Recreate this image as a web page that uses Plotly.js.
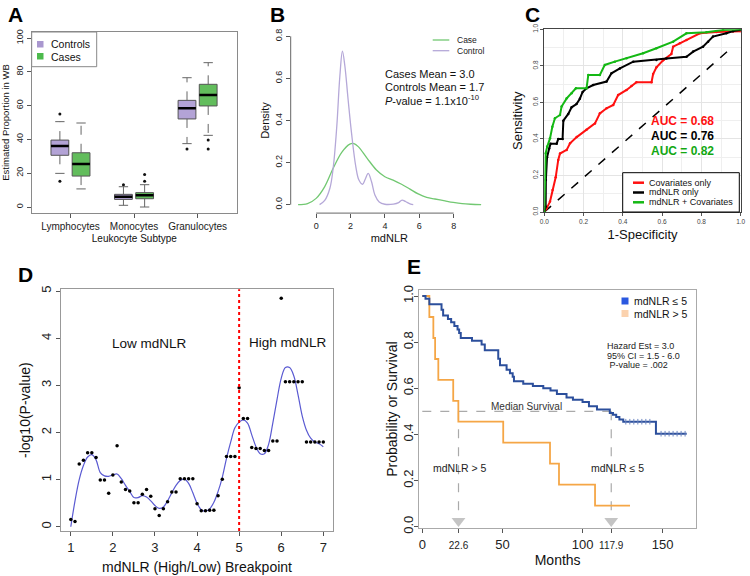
<!DOCTYPE html>
<html><head><meta charset="utf-8">
<script src="https://cdn.plot.ly/plotly-3.0.1.min.js"></script>
<style>html,body{margin:0;padding:0;background:#fff}#chart{width:750px;height:576px}</style>
</head><body><div id="chart"></div>
<script>
// ---------- Panel A data (box statistics) ----------
const subtypes = ['Lymphocytes','Monocytes','Granulocytes'];
const subtypePos = [1.5, 4.5, 7.5];
const ctrlPos = [1, 4, 7];
const casePos = [2, 5, 8];
const ctrlLo  = [19.9, 1.0, 37.5];
const ctrlQ1  = [30.6, 4.5, 52.1];
const ctrlMed = [36.1, 6.1, 58.4];
const ctrlQ3  = [39.6, 7.5, 63.1];
const ctrlHi  = [50.5, 12.0, 76.5];
const ctrlOutX = [1, 1, 4, 7];
const ctrlOutY = [55.0, 15.2, 13.2, 34.3];
const caseLo  = [10.7, 0.0, 42.4];
const caseQ1  = [18.3, 4.9, 59.8];
const caseMed = [25.4, 6.9, 66.3];
const caseQ3  = [32.1, 8.5, 72.6];
const caseHi  = [49.7, 13.2, 85.4];
const caseOutX = [5, 5, 8, 8];
const caseOutY = [15.2, 19.3, 39.6, 34.3];
const legendA = ['Controls', 'Cases'];

// ---------- Panel B data (densities) ----------
const ctrlDensX = [0.2,0.5,0.8,1.0,1.2,1.38,1.53,1.67,1.86,2.06,2.31,2.49,2.7,2.85,3.03,3.22,3.42,3.67,4.0,4.5,4.8,5.0,5.2,5.5,5.65];
const ctrlDensY = [0.0,0.02,0.078,0.18,0.37,0.61,0.73,0.66,0.50,0.34,0.18,0.117,0.097,0.12,0.149,0.11,0.046,0.013,0.002,0.003,0.01,0.022,0.015,0.003,0.0];
const caseDensX = [-1.05,-0.5,0.0,0.5,0.99,1.5,1.96,2.2,2.45,2.97,3.51,4.0,4.48,4.97,5.46,5.94,6.43,6.91,7.5,7.98,8.5,9.0,9.6];
const caseDensY = [0.0,0.005,0.03,0.086,0.173,0.25,0.288,0.29,0.276,0.22,0.165,0.133,0.117,0.097,0.074,0.051,0.035,0.027,0.018,0.011,0.005,0.002,0.0];
const legendB = ['Case', 'Control'];

// ---------- Panel C data (ROC curves) ----------
const covFpr = [0,0.012,0.029,0.042,0.058,0.071,0.080,0.114,0.131,0.165,0.215,0.258,0.283,0.317,0.351,0.376,0.419,0.444,0.469,0.546,0.554,0.571,0.605,0.647,0.656,0.69,0.724,0.792,0.876,0.961,1];
const covTpr = [0,0.02,0.057,0.12,0.19,0.285,0.32,0.34,0.376,0.41,0.45,0.485,0.54,0.568,0.586,0.64,0.668,0.69,0.71,0.71,0.755,0.792,0.83,0.865,0.905,0.923,0.942,0.978,0.985,0.99,0.99];
const nlrFpr = [0,0.007,0.008,0.014,0.025,0.032,0.063,0.071,0.093,0.097,0.122,0.139,0.164,0.181,0.195,0.215,0.249,0.317,0.342,0.385,0.453,0.571,0.622,0.724,0.758,0.808,0.834,0.859,0.927,0.961,1];
const nlrTpr = [0,0.03,0.175,0.30,0.347,0.374,0.374,0.40,0.40,0.50,0.537,0.573,0.591,0.62,0.657,0.677,0.695,0.714,0.759,0.786,0.823,0.832,0.84,0.85,0.878,0.905,0.932,0.96,0.978,0.99,0.996];
const bothFpr = [0,0.007,0.015,0.029,0.041,0.054,0.080,0.088,0.114,0.139,0.161,0.215,0.224,0.283,0.308,0.359,0.419,0.503,0.571,0.656,0.724,0.825,0.910,1];
const bothTpr = [0,0.321,0.358,0.403,0.467,0.513,0.531,0.577,0.622,0.650,0.677,0.677,0.750,0.750,0.805,0.823,0.841,0.869,0.896,0.932,0.978,0.984,0.996,1];
const refLineX = [0, 0.96];
const refLineY = [0, 0.905];
const aucLabels = ['AUC = 0.68','AUC = 0.76','AUC = 0.82'];
const legendC = ['Covariates only', 'mdNLR only', 'mdNLR + Covariates'];

// ---------- Panel D data (breakpoint scan) ----------
const breakX = [1.0,1.1,1.2,1.3,1.4,1.5,1.6,1.7,1.8,1.9,2.0,2.1,2.2,2.3,2.4,2.5,2.6,2.7,2.8,2.9,3.0,3.1,3.2,3.3,3.4,3.5,3.6,3.7,3.8,3.9,4.0,4.1,4.2,4.3,4.4,4.5,4.6,4.7,4.8,4.9,5.0,5.1,5.2,5.3,5.4,5.5,5.6,5.7,5.8,5.9,6.0,6.1,6.2,6.3,6.4,6.5,6.6,6.7,6.8,6.9,7.0];
const negLogP = [0.155,0.11,1.33,1.41,1.57,1.57,1.47,0.99,0.99,0.71,1.10,1.72,0.95,0.79,0.76,0.51,0.51,0.69,0.79,0.65,0.38,0.24,0.38,0.53,0.74,0.74,1.02,1.02,1.02,1.02,0.49,0.34,0.34,0.35,0.35,0.66,1.01,1.49,1.49,1.49,2.95,2.30,2.30,1.68,1.66,1.66,1.62,1.62,1.82,1.82,4.85,3.08,3.08,3.08,3.08,3.08,1.80,1.80,1.80,1.80,1.80];
const smoothLogP = [0.0,0.55,1.0,1.3,1.48,1.53,1.42,1.15,1.08,1.07,1.1,1.12,1.02,0.88,0.75,0.62,0.62,0.66,0.63,0.55,0.45,0.39,0.42,0.55,0.72,0.88,0.98,1.01,0.92,0.72,0.5,0.36,0.33,0.38,0.52,0.75,1.05,1.45,1.8,2.1,2.22,2.27,2.2,1.95,1.7,1.55,1.55,1.75,2.2,2.7,3.15,3.38,3.38,3.2,2.8,2.35,2.05,1.88,1.8,1.76,1.7];
const chosenBreak = 5;

// ---------- Panel E data (Kaplan-Meier) ----------
const lowT = [0,2,4.4,12,13,16,18,20,22,23,24,31,37,39,47.4,48.5,52.6,54.7,56.4,57.2,63,69,75.5,80,84,90,94,100,104,109,117,119,121,123,125.4,145.8,165];
const lowS = [1.0,0.988,0.964,0.94,0.915,0.9,0.886,0.87,0.855,0.84,0.818,0.806,0.79,0.765,0.728,0.70,0.68,0.665,0.65,0.63,0.62,0.61,0.60,0.59,0.575,0.56,0.55,0.54,0.522,0.508,0.493,0.485,0.475,0.465,0.455,0.403,0.403];
const lowCensT = [127,129.5,132,134.5,137,139.5,142,149,151.5,154,156.5,159,161.5,164];
const lowCensS = [0.455,0.455,0.455,0.455,0.455,0.455,0.455,0.403,0.403,0.403,0.403,0.403,0.403,0.403];
const highT = [0,4.4,6.9,8,10,19.3,22.5,50.5,79.7,85.3,107.8,129.6];
const highS = [1,0.909,0.818,0.727,0.636,0.545,0.455,0.364,0.273,0.182,0.091,0.091];
const medianTimes = [22.6, 117.9];
const medianLevel = 0.5;
const eTicks = [0, 22.6, 50, 100, 117.9, 150];
const legendE = ['mdNLR ≤ 5', 'mdNLR > 5'];

// ---------- helpers ----------
const W = 750, H = 576;
const FONT = 'Liberation Sans, Arial, sans-serif';
const dX = (l, r) => [l / W, r / W];
const dY = (t, b) => [1 - b / H, 1 - t / H];
const PX = (x) => x / W;
const PY = (y) => 1 - y / H;

function boxTraces(pos, lo, q1, med, q3, hi, fill) {
  const half = 0.42, cap = 0.22;
  const bx = [], by = [], wx = [], wy = [], cx = [], cy = [], mx = [], my = [];
  pos.forEach((p, i) => {
    bx.push(p - half, p + half, p + half, p - half, p - half, null);
    by.push(q1[i], q1[i], q3[i], q3[i], q1[i], null);
    wx.push(p, p, null, p, p, null);
    wy.push(q3[i], hi[i], null, q1[i], lo[i], null);
    cx.push(p - cap, p + cap, null, p - cap, p + cap, null);
    cy.push(hi[i], hi[i], null, lo[i], lo[i], null);
    mx.push(p - half, p + half, null);
    my.push(med[i], med[i], null);
  });
  const ax = {xaxis: 'x', yaxis: 'y', hoverinfo: 'skip', showlegend: false};
  return [
    Object.assign({x: wx, y: wy, mode: 'lines', line: {color: '#666', width: 1, dash: 'dash'}}, ax),
    Object.assign({x: cx, y: cy, mode: 'lines', line: {color: '#666', width: 1}}, ax),
    Object.assign({x: bx, y: by, mode: 'lines', fill: 'toself', fillcolor: fill, line: {color: '#555', width: 1}}, ax),
    Object.assign({x: mx, y: my, mode: 'lines', line: {color: '#000', width: 2.5}}, ax)
  ];
}

const COL = {ctrlBox: '#b3a3d6', caseBox: '#62bd5c', ctrlKey: '#a997cf', caseKey: '#4dba4d',
  bCase: '#72c872', bCtrl: '#b5a8d8', red: '#ff1010', black: '#000', green: '#14b814',
  blue: '#2c4f9c', orange: '#f5a646', blueKey: '#2a58e0', orangeKey: '#fbd2ae'};

const traces = [];
// Panel A
traces.push(...boxTraces(ctrlPos, ctrlLo, ctrlQ1, ctrlMed, ctrlQ3, ctrlHi, COL.ctrlBox));
traces.push(...boxTraces(casePos, caseLo, caseQ1, caseMed, caseQ3, caseHi, COL.caseBox));
traces.push({x: ctrlOutX.concat(caseOutX), y: ctrlOutY.concat(caseOutY), mode: 'markers', xaxis: 'x', yaxis: 'y',
  marker: {color: '#111', size: 3}, showlegend: false, hoverinfo: 'skip'});

// Panel B
traces.push({x: caseDensX, y: caseDensY, mode: 'lines', name: legendB[0], xaxis: 'x2', yaxis: 'y2', showlegend: false,
  line: {color: COL.bCase, width: 1.3, shape: 'spline'}});
traces.push({x: ctrlDensX, y: ctrlDensY, mode: 'lines', name: legendB[1], xaxis: 'x2', yaxis: 'y2', showlegend: false,
  line: {color: COL.bCtrl, width: 1.3, shape: 'spline'}});

// Panel C
traces.push({x: refLineX, y: refLineY, mode: 'lines', xaxis: 'x3', yaxis: 'y3', showlegend: false,
  line: {color: '#000', width: 1.5, dash: 'dash'}});
traces.push({x: covFpr, y: covTpr, mode: 'lines+markers', name: legendC[0], xaxis: 'x3', yaxis: 'y3', showlegend: false,
  line: {color: COL.red, width: 2}, marker: {size: 2.5, color: COL.red}});
traces.push({x: nlrFpr, y: nlrTpr, mode: 'lines+markers', name: legendC[1], xaxis: 'x3', yaxis: 'y3', showlegend: false,
  line: {color: COL.black, width: 2}, marker: {size: 2.5, color: COL.black}});
traces.push({x: bothFpr, y: bothTpr, mode: 'lines+markers', name: legendC[2], xaxis: 'x3', yaxis: 'y3', showlegend: false,
  line: {color: COL.green, width: 2}, marker: {size: 2.5, color: COL.green}});

// Panel D
traces.push({x: breakX, y: smoothLogP, mode: 'lines', xaxis: 'x4', yaxis: 'y4', showlegend: false,
  line: {color: '#5a5ad2', width: 1.2, shape: 'spline'}});
traces.push({x: breakX, y: negLogP, mode: 'markers', xaxis: 'x4', yaxis: 'y4', showlegend: false,
  marker: {color: '#000', size: 3.5}});

// Panel E
traces.push({x: [0, medianTimes[1]], y: [medianLevel, medianLevel], mode: 'lines', xaxis: 'x5', yaxis: 'y5', showlegend: false,
  line: {color: '#aaa', width: 1.2, dash: 'dash'}});
traces.push({x: [medianTimes[0], medianTimes[0], null, medianTimes[1], medianTimes[1]], y: [medianLevel, 0.04, null, medianLevel, 0.04],
  mode: 'lines', xaxis: 'x5', yaxis: 'y5', showlegend: false, line: {color: '#aaa', width: 1.2, dash: 'dash'}});
traces.push({x: medianTimes, y: [0.025, 0.025], mode: 'markers', xaxis: 'x5', yaxis: 'y5', showlegend: false,
  marker: {symbol: 'triangle-down', size: 12, color: '#c4c4c4'}});
traces.push({x: highT, y: highS, mode: 'lines', name: legendE[1], xaxis: 'x5', yaxis: 'y5', showlegend: false,
  line: {color: COL.orange, width: 1.8, shape: 'hv'}});
traces.push({x: lowT, y: lowS, mode: 'lines', name: legendE[0], xaxis: 'x5', yaxis: 'y5', showlegend: false,
  line: {color: COL.blue, width: 2, shape: 'hv'}});
traces.push({x: lowCensT, y: lowCensS, mode: 'markers', xaxis: 'x5', yaxis: 'y5', showlegend: false,
  marker: {symbol: 'line-ns', size: 4, line: {color: '#6d86c0', width: 1}}});

function axis(extra) {
  return Object.assign({showgrid: false, zeroline: false, ticks: 'outside', ticklen: 4, tickcolor: '#555',
    showline: true, mirror: true, linecolor: '#8a8a8a', linewidth: 1, fixedrange: true, automargin: false,
    tickfont: {family: FONT, size: 9, color: '#222'}}, extra);
}
const tfont = (s) => ({family: FONT, size: s, color: '#111'});

// ---------- manual legends (shapes + texts in paper pixels) ----------
const shapes = [
  {type: 'line', xref: 'x2', yref: 'y2 domain', x0: 0, x1: 8, y0: 0, y1: 0, line: {color: '#666', width: 1}},
  {type: 'line', xref: 'x2 domain', yref: 'y2', x0: 0, x1: 0, y0: 0, y1: 0.8, line: {color: '#666', width: 1}},
  {type: 'line', xref: 'x4', yref: 'y4 domain', x0: chosenBreak, x1: chosenBreak, y0: 0, y1: 1,
    line: {color: '#ff0000', width: 2, dash: 'dot'}}
];
const annotations = [];
function pText(text, x, y, size, color, xanchor, extra) {
  annotations.push(Object.assign({text: text, x: PX(x), y: PY(y), xref: 'paper', yref: 'paper', showarrow: false,
    xanchor: xanchor || 'center', yanchor: 'middle', font: {family: FONT, size: size, color: color || '#111'}}, extra || {}));
}
function pRect(x0, y0, x1, y1, fill, border, bw) {
  shapes.push({type: 'rect', xref: 'paper', yref: 'paper', x0: PX(x0), x1: PX(x1), y0: PY(y1), y1: PY(y0),
    fillcolor: fill, line: {color: border || fill, width: bw === undefined ? 0 : bw}, layer: 'above'});
}
function pLine(x0, x1, y, color, w) {
  shapes.push({type: 'line', xref: 'paper', yref: 'paper', x0: PX(x0), x1: PX(x1), y0: PY(y), y1: PY(y),
    line: {color: color, width: w}, layer: 'above'});
}
// A legend
pRect(31.7, 32, 96.7, 66.7, '#fff', '#888', 1);
pRect(37, 41, 43.5, 47.5, COL.ctrlKey);
pRect(37, 53, 43.5, 59.5, COL.caseKey);
pText(legendA[0], 49, 44.5, 10.5, '#111', 'left');
pText(legendA[1], 49, 56.5, 10.5, '#111', 'left');
// B legend
pLine(432.7, 449.3, 40, COL.bCase, 1.3);
pLine(432.7, 449.3, 50.7, COL.bCtrl, 1.3);
pText(legendB[0], 455, 40, 8.5, '#222', 'left');
pText(legendB[1], 455, 50.7, 8.5, '#222', 'left');
// C legend
pRect(622.7, 172.7, 739.3, 212, '#fff', '#000', 1);
pLine(633, 644, 182.7, COL.red, 2.5);
pLine(633, 644, 192.5, COL.black, 2.5);
pLine(633, 644, 202.3, COL.green, 2.5);
pText(legendC[0], 646.5, 182.7, 9, '#111', 'left');
pText(legendC[1], 646.5, 192.5, 9, '#111', 'left');
pText(legendC[2], 646.5, 202.3, 9, '#111', 'left');
// E legend
pRect(621.5, 297.5, 628.5, 304.5, COL.blueKey);
pRect(621.5, 310, 628.5, 317, COL.orangeKey);
pText(legendE[0], 632, 301, 10.5, '#111', 'left');
pText(legendE[1], 632, 313.5, 10.5, '#111', 'left');

// panel letters
pText('<b>A</b>', 15, 14, 21, '#000');
pText('<b>B</b>', 277, 14, 21, '#000');
pText('<b>C</b>', 532, 14, 21, '#000');
pText('<b>D</b>', 25, 274, 21, '#000');
pText('<b>E</b>', 414, 266, 21, '#000');
// B statistics text
pText('Cases Mean = 3.0', 383, 74, 11, '#111', 'left');
pText('Controls Mean = 1.7', 383, 87.3, 11, '#111', 'left');
pText('<i>P</i>-value = 1.1x10<sup>-10</sup>', 383, 100.5, 11, '#111', 'left');
// C AUC texts
pText('<b>' + aucLabels[0] + '</b>', 682, 121, 12, COL.red);
pText('<b>' + aucLabels[1] + '</b>', 682, 136, 12, '#000');
pText('<b>' + aucLabels[2] + '</b>', 682, 151, 12, '#12a812');
// E hazard text
pText('Hazard Est = 3.0', 605, 346.3, 9, '#222', 'left');
pText('95% CI = 1.5 - 6.0', 605, 355.8, 9, '#222', 'left');
pText(' P-value = .002', 605, 365.3, 9, '#222', 'left');
// data-anchored labels
annotations.push({text: 'Low mdNLR', x: 2.88, y: 3.9, xref: 'x4', yref: 'y4', showarrow: false, font: tfont(13.5)});
annotations.push({text: 'High mdNLR', x: 6.15, y: 3.92, xref: 'x4', yref: 'y4', showarrow: false, font: tfont(13.5)});
annotations.push({text: 'Median Survival', x: 65, y: 0.522, xref: 'x5', yref: 'y5', showarrow: false, font: {family: FONT, size: 10, color: '#333'}});
annotations.push({text: 'mdNLR > 5', x: 23.5, y: 0.256, xref: 'x5', yref: 'y5', showarrow: false, font: {family: FONT, size: 10.5, color: '#222'}});
annotations.push({text: 'mdNLR ≤ 5', x: 122, y: 0.256, xref: 'x5', yref: 'y5', showarrow: false, font: {family: FONT, size: 10.5, color: '#222'}});

const layout = {
  width: W, height: H, margin: {l: 0, r: 0, t: 0, b: 0}, paper_bgcolor: '#fff', plot_bgcolor: 'rgba(0,0,0,0)',
  font: {family: FONT, color: '#111'}, showlegend: false,
  // A
  xaxis: axis({domain: dX(31.7, 237), range: [-0.33, 9.36], tickvals: subtypePos, ticktext: subtypes, anchor: 'y',
    tickfont: {family: FONT, size: 10, color: '#222'},
    title: {text: 'Leukocyte Subtype', font: tfont(10), standoff: 3}}),
  yaxis: axis({domain: dY(32, 213), range: [-3.55, 103.55], tickvals: [0, 20, 40, 60, 80, 100], tickangle: -90, anchor: 'x',
    title: {text: 'Estimated Proportion in WB', font: tfont(9.5), standoff: 4}}),
  // B
  xaxis2: axis({domain: dX(290.7, 488), range: [-1.48, 10.0], tickvals: [0, 2, 4, 6, 8], showline: false, anchor: 'y2',
    title: {text: 'mdNLR', font: tfont(11), standoff: 4}}),
  yaxis2: axis({domain: dY(27.9, 213.1), range: [-0.04, 0.84], tickvals: [0, 0.2, 0.4, 0.6, 0.8], tickformat: '.1f', tickangle: -90,
    showline: false, anchor: 'x2', title: {text: 'Density', font: tfont(11), standoff: 2}}),
  // C
  xaxis3: axis({domain: dX(544.3, 740.7), range: [0, 1], tickvals: [0, 0.2, 0.4, 0.6, 0.8, 1], tickformat: '.1f', anchor: 'y3',
    linecolor: '#444', ticklen: 3, tickfont: {family: FONT, size: 6.5, color: '#444'},
    showgrid: true, gridcolor: '#e4e4e4', minor: {dtick: 0.1, showgrid: true, gridcolor: '#efefef'},
    title: {text: '1-Specificity', font: tfont(13), standoff: 6}}),
  yaxis3: axis({domain: dY(29.3, 212), range: [0, 1], tickvals: [0, 0.2, 0.4, 0.6, 0.8, 1], tickformat: '.1f', tickangle: -90, anchor: 'x3',
    linecolor: '#444', ticklen: 3, tickfont: {family: FONT, size: 6.5, color: '#444'},
    showgrid: true, gridcolor: '#e4e4e4', minor: {dtick: 0.1, showgrid: true, gridcolor: '#efefef'},
    title: {text: 'Sensitivity', font: tfont(13), standoff: 6}}),
  // D
  xaxis4: axis({domain: dX(60.7, 333.4), range: [0.76, 7.24], tickvals: [1, 2, 3, 4, 5, 6, 7], anchor: 'y4',
    linecolor: '#999', tickfont: {family: FONT, size: 13, color: '#222'},
    title: {text: 'mdNLR (High/Low) Breakpoint', font: tfont(14), standoff: 8}}),
  yaxis4: axis({domain: dY(289.3, 531), range: [-0.09, 5.04], tickvals: [0, 1, 2, 3, 4, 5], tickangle: -90, anchor: 'x4',
    linecolor: '#999', tickfont: {family: FONT, size: 13, color: '#222'},
    title: {text: '-log10(P-value)', font: tfont(14), standoff: 4}}),
  // E
  xaxis5: axis({domain: dX(419.3, 696), range: [-1.87, 170.8], tickvals: eTicks, anchor: 'y5',
    ticktext: eTicks.map(v => (v === 22.6 || v === 117.9) ? '<span style="font-size:10px">' + v + '</span>' : String(v)),
    linecolor: '#aaa', tickfont: {family: FONT, size: 13, color: '#222'},
    title: {text: 'Months', font: tfont(14), standoff: 0}}),
  yaxis5: axis({domain: dY(290, 528.3), range: [-0.007, 1.026], tickvals: [0, 0.2, 0.4, 0.6, 0.8, 1], tickformat: '.1f', tickangle: -90, anchor: 'x5',
    linecolor: '#aaa', tickfont: {family: FONT, size: 13, color: '#222'}, ticklabelstandoff: -4,
    title: {text: 'Probability or Survival', font: tfont(14), standoff: 0}}),
  shapes: shapes,
  annotations: annotations
};

Plotly.newPlot('chart', traces, layout, {displayModeBar: false, staticPlot: true});
</script></body></html>
